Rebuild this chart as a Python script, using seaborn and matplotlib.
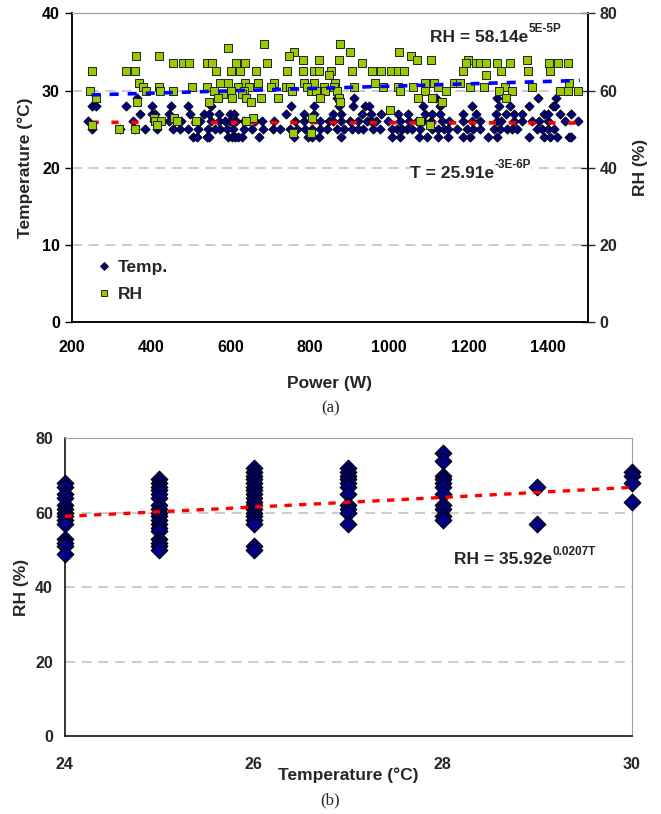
import numpy as np
import pandas as pd
import matplotlib
matplotlib.use("Agg")
import matplotlib.pyplot as plt
from matplotlib.lines import Line2D
import seaborn as sns

# ---- panel (a): temperature readings, grouped by recorded temperature ----
temp_levels = [24, 25, 26, 27, 28, 29]
power_t24 = [506, 515, 540, 547, 595, 603, 612, 620, 629, 673, 759, 796, 805, 823, 879,
             1006, 1026, 1076, 1095, 1124, 1147, 1186, 1204, 1250, 1271, 1351, 1389,
             1406, 1423, 1452, 1458]
power_t25 = [250, 322, 360, 385, 414, 456, 473, 494, 519, 544, 561, 574, 591, 607, 633,
             654, 683, 708, 725, 750, 767, 788, 805, 826, 842, 868, 885, 906, 922, 933,
             960, 977, 1006, 1019, 1032, 1044, 1057, 1078, 1107, 1124, 1137, 1149, 1170,
             1196, 1212, 1229, 1263, 1280, 1297, 1309, 1322, 1372, 1385, 1401, 1414]
power_t26 = [242, 354, 407, 444, 460, 476, 524, 550, 571, 587, 598, 614, 635, 662, 680,
             709, 762, 784, 826, 847, 858, 879, 900, 922, 943, 953, 967, 996, 1028, 1051,
             1070, 1086, 1104, 1132, 1150, 1187, 1208, 1229, 1272, 1282, 1314, 1335, 1359,
             1378, 1399, 1442, 1476]
power_t27 = [373, 402, 410, 444, 497, 534, 545, 571, 598, 610, 741, 784, 810, 858, 879,
             932, 953, 980, 1022, 1047, 1091, 1107, 1129, 1187, 1219, 1270, 1293, 1314,
             1335, 1389, 1399, 1431, 1458]
power_t28 = [251, 262, 338, 402, 450, 492, 550, 752, 810, 874, 909, 938, 948, 1086, 1129,
             1208, 1277, 1304, 1351, 1412, 1418]
power_t29 = [364, 869, 911, 1118, 1272, 1376, 1420]
temp_power_groups = [power_t24, power_t25, power_t26, power_t27, power_t28, power_t29]

# ---- panel (a): relative humidity readings, grouped by recorded RH ----
rh_levels = [72, 71, 70, 69, 68, 67, 65, 64, 62, 61, 60, 59, 58, 57, 55, 53, 52, 51, 50, 49]
rh_power_groups = [
    [685, 875],
    [594],
    [759, 900, 1025],
    [361, 421, 747, 1054],
    [783, 823, 874, 1070, 1104, 1198, 1346],
    [454, 480, 496, 542, 553, 614, 636, 692, 932, 1193, 1219, 1229, 1245, 1272, 1304,
     1403, 1426, 1451],
    [251, 336, 359, 564, 601, 624, 665, 742, 782, 810, 824, 853, 906, 957, 980, 1004,
     1022, 1036, 1187, 1282, 1350, 1406],
    [847, 1245],
    [370, 574, 593, 636, 669, 709, 785, 810, 863, 964, 1089, 1113, 1164, 1178, 1452],
    [380, 421, 502, 540, 618, 646, 701, 741, 750, 794, 835, 860, 911, 985, 1023, 1060,
     1123, 1203, 1238, 1291, 1359],
    [245, 386, 423, 455, 558, 601, 633, 754, 802, 815, 837, 869, 1028, 1091, 1144, 1277,
     1309, 1431, 1451, 1476],
    [580, 628],
    [262, 568, 604, 638, 676, 720, 826, 874, 1073, 1107, 1293],
    [364, 547, 651, 877, 1134],
    [1001],
    [407, 457, 657, 805],
    [411, 425, 465, 514, 640, 1077],
    [251, 414, 1102],
    [320, 359],
    [757, 803],
]

# fitted curves quoted on the chart (a * exp(b * x))
rh_fit = (58.14, 5e-5)
t_fit = (25.91, -3e-6)
fit_power_range = (250, 1480)

# ---- panel (b): RH against temperature ----
b_temps = [24, 25, 26, 27, 28, 29, 30]
b_rh_24 = [68, 67, 65, 64, 62, 61, 60, 59, 58, 57, 53, 52, 51, 49]
b_rh_25 = [69, 68, 67, 66, 65, 64, 62, 61, 60, 59, 58, 57, 56, 55, 53, 52, 51, 50]
b_rh_26 = [72, 71, 70, 69, 68, 67, 66, 65, 64, 63, 62, 61, 60, 59, 58, 57, 51, 50]
b_rh_27 = [72, 71, 70, 69, 68, 67, 65, 62, 61, 60, 57]
b_rh_28 = [76, 74, 70, 69, 68, 67, 65, 62, 61, 59, 58]
b_rh_29 = [67, 57]
b_rh_30 = [71, 70, 68, 63]
b_rh_groups = [b_rh_24, b_rh_25, b_rh_26, b_rh_27, b_rh_28, b_rh_29, b_rh_30]
b_fit = (35.92, 0.0207)

# tidy frames
df_temp = pd.DataFrame(
    [(p, t) for t, ps in zip(temp_levels, temp_power_groups) for p in ps],
    columns=["power", "temp"])
df_rh = pd.DataFrame(
    [(p, r) for r, ps in zip(rh_levels, rh_power_groups) for p in ps],
    columns=["power", "rh"])
df_b = pd.DataFrame(
    [(t, r) for t, rs in zip(b_temps, b_rh_groups) for r in rs],
    columns=["temp", "rh"])

p_line = np.linspace(*fit_power_range, 200)
df_fit_a = pd.DataFrame({"power": p_line,
                         "rh": rh_fit[0] * np.exp(rh_fit[1] * p_line),
                         "temp": t_fit[0] * np.exp(t_fit[1] * p_line)})
t_line = np.linspace(24, 30, 100)
df_fit_b = pd.DataFrame({"temp": t_line, "rh": b_fit[0] * np.exp(b_fit[1] * t_line)})

# ---- style ----
sns.set_style("white")
plt.rcParams["font.family"] = ["Liberation Sans", "DejaVu Sans"]
plt.rcParams["font.weight"] = "bold"
plt.rcParams["axes.labelweight"] = "bold"

NAVY = "#000080"
LIME = "#99CC00"
GRID = dict(color="#c4c4c4", linestyle=(0, (6, 4)), linewidth=1.2)
TICKFONT = 11.5
LABELFONT = 12.5

fig = plt.figure(figsize=(6.61, 8.14), dpi=100)

# ================= panel (a) =================
ax1 = fig.add_axes([0.1085, 0.604, 0.7806, 0.3797])
ax2 = ax1.twinx()

sns.scatterplot(data=df_temp, x="power", y="temp", ax=ax1, marker="D", s=22,
                color=NAVY, edgecolor="black", linewidth=0.6, zorder=3)
sns.lineplot(data=df_fit_a, x="power", y="temp", ax=ax1, color="red",
             linewidth=2.6, zorder=4)
ax1.lines[-1].set_dashes((2, 3.5))

sns.scatterplot(data=df_rh, x="power", y="rh", ax=ax2, marker="s", s=27,
                color=LIME, edgecolor="#222222", linewidth=0.7, zorder=3)
sns.lineplot(data=df_fit_a, x="power", y="rh", ax=ax2, color="blue",
             linewidth=2.6, zorder=4)
ax2.lines[-1].set_dashes((2.5, 2.5))

ax1.set_xlim(200, 1500)
ax1.set_ylim(0, 40)
ax2.set_ylim(0, 80)
ax1.set_xticks(range(200, 1401, 200))
ax1.set_yticks(range(0, 41, 10))
ax2.set_yticks(range(0, 81, 20))
for y in (10, 20, 30):
    ax1.axhline(y, zorder=0, **GRID)

ax1.set_xlabel("Power (W)", fontsize=LABELFONT)
ax1.set_ylabel("Temperature (°C)", fontsize=LABELFONT)
ax2.set_ylabel("RH (%)", fontsize=LABELFONT, rotation=90)
ax1.xaxis.set_label_coords(0.5, -0.175)
ax1.yaxis.set_label_coords(-0.075, 0.5)
ax2.yaxis.set_label_coords(1.088, 0.5)

ax1.tick_params(axis="both", labelsize=TICKFONT, length=5, width=1, direction="out",
                colors="black")
ax1.tick_params(axis="x", pad=8)
ax2.tick_params(axis="y", labelsize=TICKFONT, length=10, width=1, direction="inout")
for a in (ax1, ax2):
    for lbl in a.get_xticklabels() + a.get_yticklabels():
        lbl.set_fontweight("bold")
    a.spines["top"].set_color("#a0a0a0")
    for side in ("left", "right", "bottom"):
        a.spines[side].set_color("black")
        a.spines[side].set_linewidth(1.1)

base = ax1.text(1103, 36.9, "RH = 58.14e", fontsize=12.5, fontweight="bold",
                va="center", ha="left")
ax1.annotate("5E-5P", xy=(1.0, 0.62), xycoords=base, fontsize=8.5,
             fontweight="bold", va="bottom", ha="left")
base = ax1.text(1053, 19.3, "T = 25.91e", fontsize=12.5, fontweight="bold",
                va="center", ha="left",
                bbox=dict(facecolor="white", edgecolor="none", pad=0.5))
ax1.annotate("-3E-6P", xy=(1.0, 0.62), xycoords=base, fontsize=8.5,
             fontweight="bold", va="bottom", ha="left",
             bbox=dict(facecolor="white", edgecolor="none", pad=0.3))

handles = [Line2D([], [], marker="D", linestyle="none", markersize=4.4,
                  markerfacecolor=NAVY, markeredgecolor="black", markeredgewidth=0.6),
           Line2D([], [], marker="s", linestyle="none", markersize=5.0,
                  markerfacecolor=LIME, markeredgecolor="#222222", markeredgewidth=0.7)]
ax2.legend(handles, ["Temp.", "RH"], loc="lower left", bbox_to_anchor=(0.02, 0.015),
           frameon=False, handlelength=0.7, handletextpad=0.45, labelspacing=0.7,
           prop=dict(size=12.5, weight="bold"))

fig.text(0.5, 1 - 408 / 814, "(a)", ha="center", va="center", fontsize=12,
         family=["Liberation Serif", "DejaVu Serif"], fontweight="normal")

# ================= panel (b) =================
ax3 = fig.add_axes([0.0979, 0.0958, 0.8578, 0.3657])
sns.scatterplot(data=df_b, x="temp", y="rh", ax=ax3, marker="D", s=72,
                color=NAVY, edgecolor="black", linewidth=0.8, zorder=3, clip_on=False)
sns.lineplot(data=df_fit_b, x="temp", y="rh", ax=ax3, color="red",
             linewidth=2.4, zorder=4)
ax3.lines[-1].set_dashes((2.2, 2.2))

ax3.set_xlim(24, 30)
ax3.set_ylim(0, 80)
ax3.set_xticks([24, 26, 28, 30])
ax3.set_yticks(range(0, 81, 20))
for y in (20, 40, 60):
    ax3.axhline(y, zorder=0, **GRID)
ax3.set_xlabel("Temperature (°C)", fontsize=LABELFONT)
ax3.set_ylabel("RH (%)", fontsize=LABELFONT)
ax3.xaxis.set_label_coords(0.5, -0.105)
ax3.yaxis.set_label_coords(-0.063, 0.5)
ax3.tick_params(axis="both", labelsize=TICKFONT, length=5, width=1, direction="out")
ax3.tick_params(axis="x", pad=10)
for lbl in ax3.get_xticklabels() + ax3.get_yticklabels():
    lbl.set_fontweight("bold")
for side in ("top", "right"):
    ax3.spines[side].set_color("#a0a0a0")
for side in ("left", "bottom"):
    ax3.spines[side].set_color("black")
    ax3.spines[side].set_linewidth(1.1)

base = ax3.text(28.12, 47.4, "RH = 35.92e", fontsize=12.5, fontweight="bold",
                va="center", ha="left")
ax3.annotate("0.0207T", xy=(1.0, 0.62), xycoords=base, fontsize=8.5,
             fontweight="bold", va="bottom", ha="left")

fig.text(0.5, 1 - 800 / 814, "(b)", ha="center", va="center", fontsize=12,
         family=["Liberation Serif", "DejaVu Serif"], fontweight="normal")

fig.savefig("out.png", dpi=100)
plt.close(fig)
